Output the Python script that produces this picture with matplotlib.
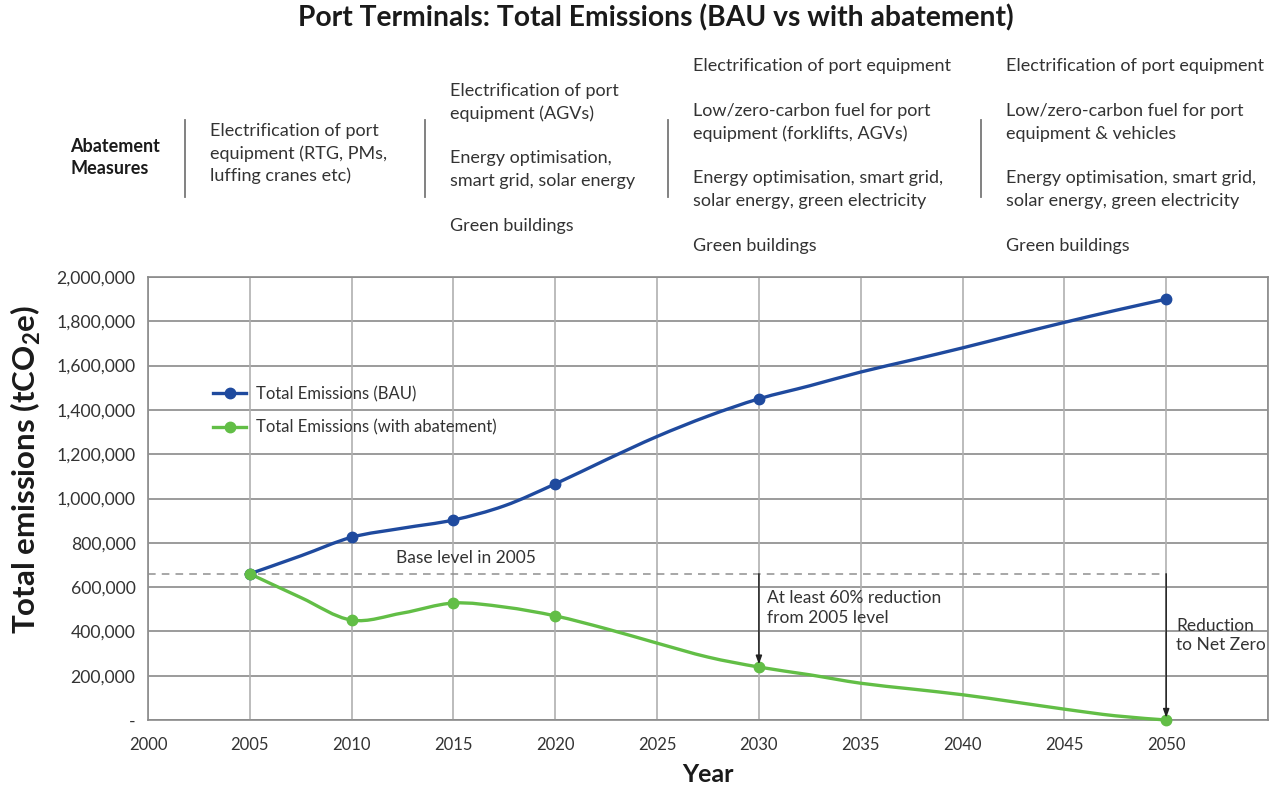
import numpy as np
import matplotlib
matplotlib.use("Agg")
import matplotlib.pyplot as plt
from matplotlib.path import Path
from matplotlib.patches import PathPatch
from matplotlib.lines import Line2D
from matplotlib.ticker import FuncFormatter

# ---------------- data ----------------
line_years = [2005, 2007.5, 2010, 2012.5, 2015, 2017.5, 2020, 2022.5, 2025, 2027.5,
              2030, 2032.5, 2035, 2037.5, 2040, 2042.5, 2045, 2047.5, 2050]
bau_values = [660000, 741000, 825000, 866000, 903000, 967000, 1066000, 1175000, 1280000, 1372000,
              1450000, 1509000, 1571000, 1625000, 1680000, 1738000, 1795000, 1849000, 1900000]
abate_values = [660000, 553000, 451000, 483000, 528000, 510000, 470000, 412000, 347000, 284000,
                239000, 204000, 166000, 140000, 114000, 82000, 49000, 19000, 0]
marker_years = [2005, 2010, 2015, 2020, 2030, 2050]
bau_markers = [660000, 825000, 903000, 1066000, 1450000, 1900000]
abate_markers = [660000, 451000, 528000, 470000, 239000, 0]
base_level = 660000
x_ticks = [2000, 2005, 2010, 2015, 2020, 2025, 2030, 2035, 2040, 2045, 2050, 2055]
x_tick_labels = ["2000", "2005", "2010", "2015", "2020", "2025", "2030", "2035", "2040", "2045", "2050", ""]
y_ticks = [0, 200000, 400000, 600000, 800000, 1000000, 1200000, 1400000, 1600000, 1800000, 2000000]

series_names = ["Total Emissions (BAU)", "Total Emissions (with abatement)"]
title = "Port Terminals: Total Emissions (BAU vs with abatement)"
abatement_header = ["Abatement", "Measures"]
col1 = [["Electrification of port", "equipment (RTG, PMs,", "luffing cranes etc)"]]
col2 = [["Electrification of port", "equipment (AGVs)"],
        ["Energy optimisation,", "smart grid, solar energy"],
        ["Green buildings"]]
col3 = [["Electrification of port equipment"],
        ["Low/zero-carbon fuel for port", "equipment (forklifts, AGVs)"],
        ["Energy optimisation, smart grid,", "solar energy, green electricity"],
        ["Green buildings"]]
col4 = [["Electrification of port equipment"],
        ["Low/zero-carbon fuel for port", "equipment & vehicles"],
        ["Energy optimisation, smart grid,", "solar energy, green electricity"],
        ["Green buildings"]]

# ---------------- style ----------------
FONT = ["Lato", "DejaVu Sans"]
plt.rcParams['font.family'] = FONT
plt.rcParams['mathtext.fontset'] = 'custom'
plt.rcParams['mathtext.rm'] = 'Lato'
plt.rcParams['mathtext.bf'] = 'Lato:bold'
TXT = "#333333"
BLUE = "#1f4a9e"
GREEN = "#62be46"

W, H = 1273, 789
fig = plt.figure(figsize=(W / 100, H / 100), dpi=100)

def fx(px):
    return px / W

def fy(py):
    return 1 - py / H

ax = fig.add_axes([fx(148), fy(720), fx(1268) - fx(148), fy(277) - fy(720)])
ax.set_xlim(2000, 2055)
ax.set_ylim(0, 2000000)

# grid
for yv in y_ticks:
    ax.axhline(yv, color="#8a8a8a", lw=1.2, zorder=1)
for xv in x_ticks:
    ax.axvline(xv, color="#b0b0b0", lw=1.2, zorder=1)
for s in ax.spines.values():
    s.set_color("#8a8a8a")
    s.set_linewidth(1.2)

ax.set_xticks(x_ticks)
ax.set_xticklabels(x_tick_labels)
ax.set_yticks(y_ticks)
ax.yaxis.set_major_formatter(FuncFormatter(lambda v, p: "-" if v == 0 else f"{int(v):,}"))
ax.tick_params(length=0, colors=TXT)
ax.tick_params(axis='x', pad=12, labelsize=12)
ax.tick_params(axis='y', pad=9, labelsize=12.7)


def smooth_path(xs, ys):
    # Catmull-Rom style smooth line (like spreadsheet "smoothed line")
    xs = np.asarray(xs, float)
    ys = np.asarray(ys, float)
    verts = [(xs[0], ys[0])]
    codes = [Path.MOVETO]
    n = len(xs)
    for i in range(n - 1):
        p0 = (xs[i - 1], ys[i - 1]) if i > 0 else (xs[i], ys[i])
        p1 = (xs[i], ys[i])
        p2 = (xs[i + 1], ys[i + 1])
        p3 = (xs[i + 2], ys[i + 2]) if i + 2 < n else (xs[i + 1], ys[i + 1])
        c1 = (p1[0] + (p2[0] - p0[0]) / 6, p1[1] + (p2[1] - p0[1]) / 6)
        c2 = (p2[0] - (p3[0] - p1[0]) / 6, p2[1] - (p3[1] - p1[1]) / 6)
        verts += [c1, c2, p2]
        codes += [Path.CURVE4] * 3
    return Path(verts, codes)

ax.add_patch(PathPatch(smooth_path(line_years, bau_values), fill=False, edgecolor=BLUE,
                       lw=2.4, zorder=4, capstyle='round'))
ax.add_patch(PathPatch(smooth_path(line_years, abate_values), fill=False, edgecolor=GREEN,
                       lw=2.4, zorder=4, capstyle='round', clip_on=False))
ax.plot(marker_years, bau_markers, ls='none', marker='o', ms=7.5, color=BLUE, zorder=5, clip_on=False)
ax.plot(marker_years, abate_markers, ls='none', marker='o', ms=7.5, color=GREEN, zorder=6, clip_on=False)

# base level dashed line
ax.plot([2000, 2050], [base_level, base_level], ls=(0, (5, 4)), color="#8f8f8f", lw=1.1, zorder=3)
ax.text(2012.2, base_level + 72000, "Base level in 2005", fontsize=12.5, color=TXT, va='center', ha='left', zorder=7)

# arrows
ax.annotate("", xy=(2030, abate_markers[4] + 12000), xytext=(2030, base_level),
            arrowprops=dict(arrowstyle='-|>,head_length=0.5,head_width=0.18', color="#222222", lw=1.1,
                            shrinkA=0, shrinkB=0), zorder=7)
ax.annotate("", xy=(2050, abate_markers[5] + 10000), xytext=(2050, base_level),
            arrowprops=dict(arrowstyle='-|>,head_length=0.5,head_width=0.18', color="#222222", lw=1.1,
                            shrinkA=0, shrinkB=0), zorder=7)
ax.text(2030.4, 505000, "At least 60% reduction\nfrom 2005 level", fontsize=12.5, color=TXT,
        va='center', ha='left', linespacing=1.3, zorder=7)
ax.text(2050.5, 381000, "Reduction\nto Net Zero", fontsize=12.5, color=TXT,
        va='center', ha='left', linespacing=1.2, zorder=7)

# legend
handles = [Line2D([0], [0], color=BLUE, lw=2.4, marker='o', ms=7.5),
           Line2D([0], [0], color=GREEN, lw=2.4, marker='o', ms=7.5)]
leg = ax.legend(handles, series_names, loc='upper left', frameon=False,
                bbox_to_anchor=(fx(213), fy(386)), bbox_transform=fig.transFigure,
                fontsize=12, handlelength=2.0, handletextpad=0.55, labelspacing=1.05,
                borderaxespad=0, borderpad=0)
for t in leg.get_texts():
    t.set_color(TXT)

# axis labels
fig.text(fx(26), fy(470), r"Total emissions (tCO$_\mathbf{2}$e)", rotation=90, fontsize=22.5,
         fontweight='bold', color="#1a1a1a", ha='center', va='center')
fig.text(fx(708), fy(774), "Year", fontsize=18, fontweight='bold', color="#1a1a1a", ha='center', va='center')

# title
fig.text(fx(656), fy(18), title, fontsize=20.3, fontweight='bold', color="#1a1a1a", ha='center', va='center')

# abatement measures block
fig.text(fx(70), fy(147), abatement_header[0], fontsize=13, fontweight='bold', color="#1a1a1a", ha='left', va='center')
fig.text(fx(70), fy(169), abatement_header[1], fontsize=13, fontweight='bold', color="#1a1a1a", ha='left', va='center')
for sx in [185, 425, 668, 981]:
    fig.add_artist(Line2D([fx(sx), fx(sx)], [fy(120), fy(197)], color="#777777", lw=1.3))

LINE = 22.5
def draw_col(xpx, paragraphs, first_y):
    y = first_y
    for para in paragraphs:
        for line in para:
            fig.text(fx(xpx), fy(y), line, fontsize=13, color=TXT, ha='left', va='center')
            y += LINE
        y += LINE

draw_col(210, col1, 131)
draw_col(450, col2, 91)
draw_col(693, col3, 66)
draw_col(1006, col4, 66)

fig.savefig("out.png", dpi=100)
